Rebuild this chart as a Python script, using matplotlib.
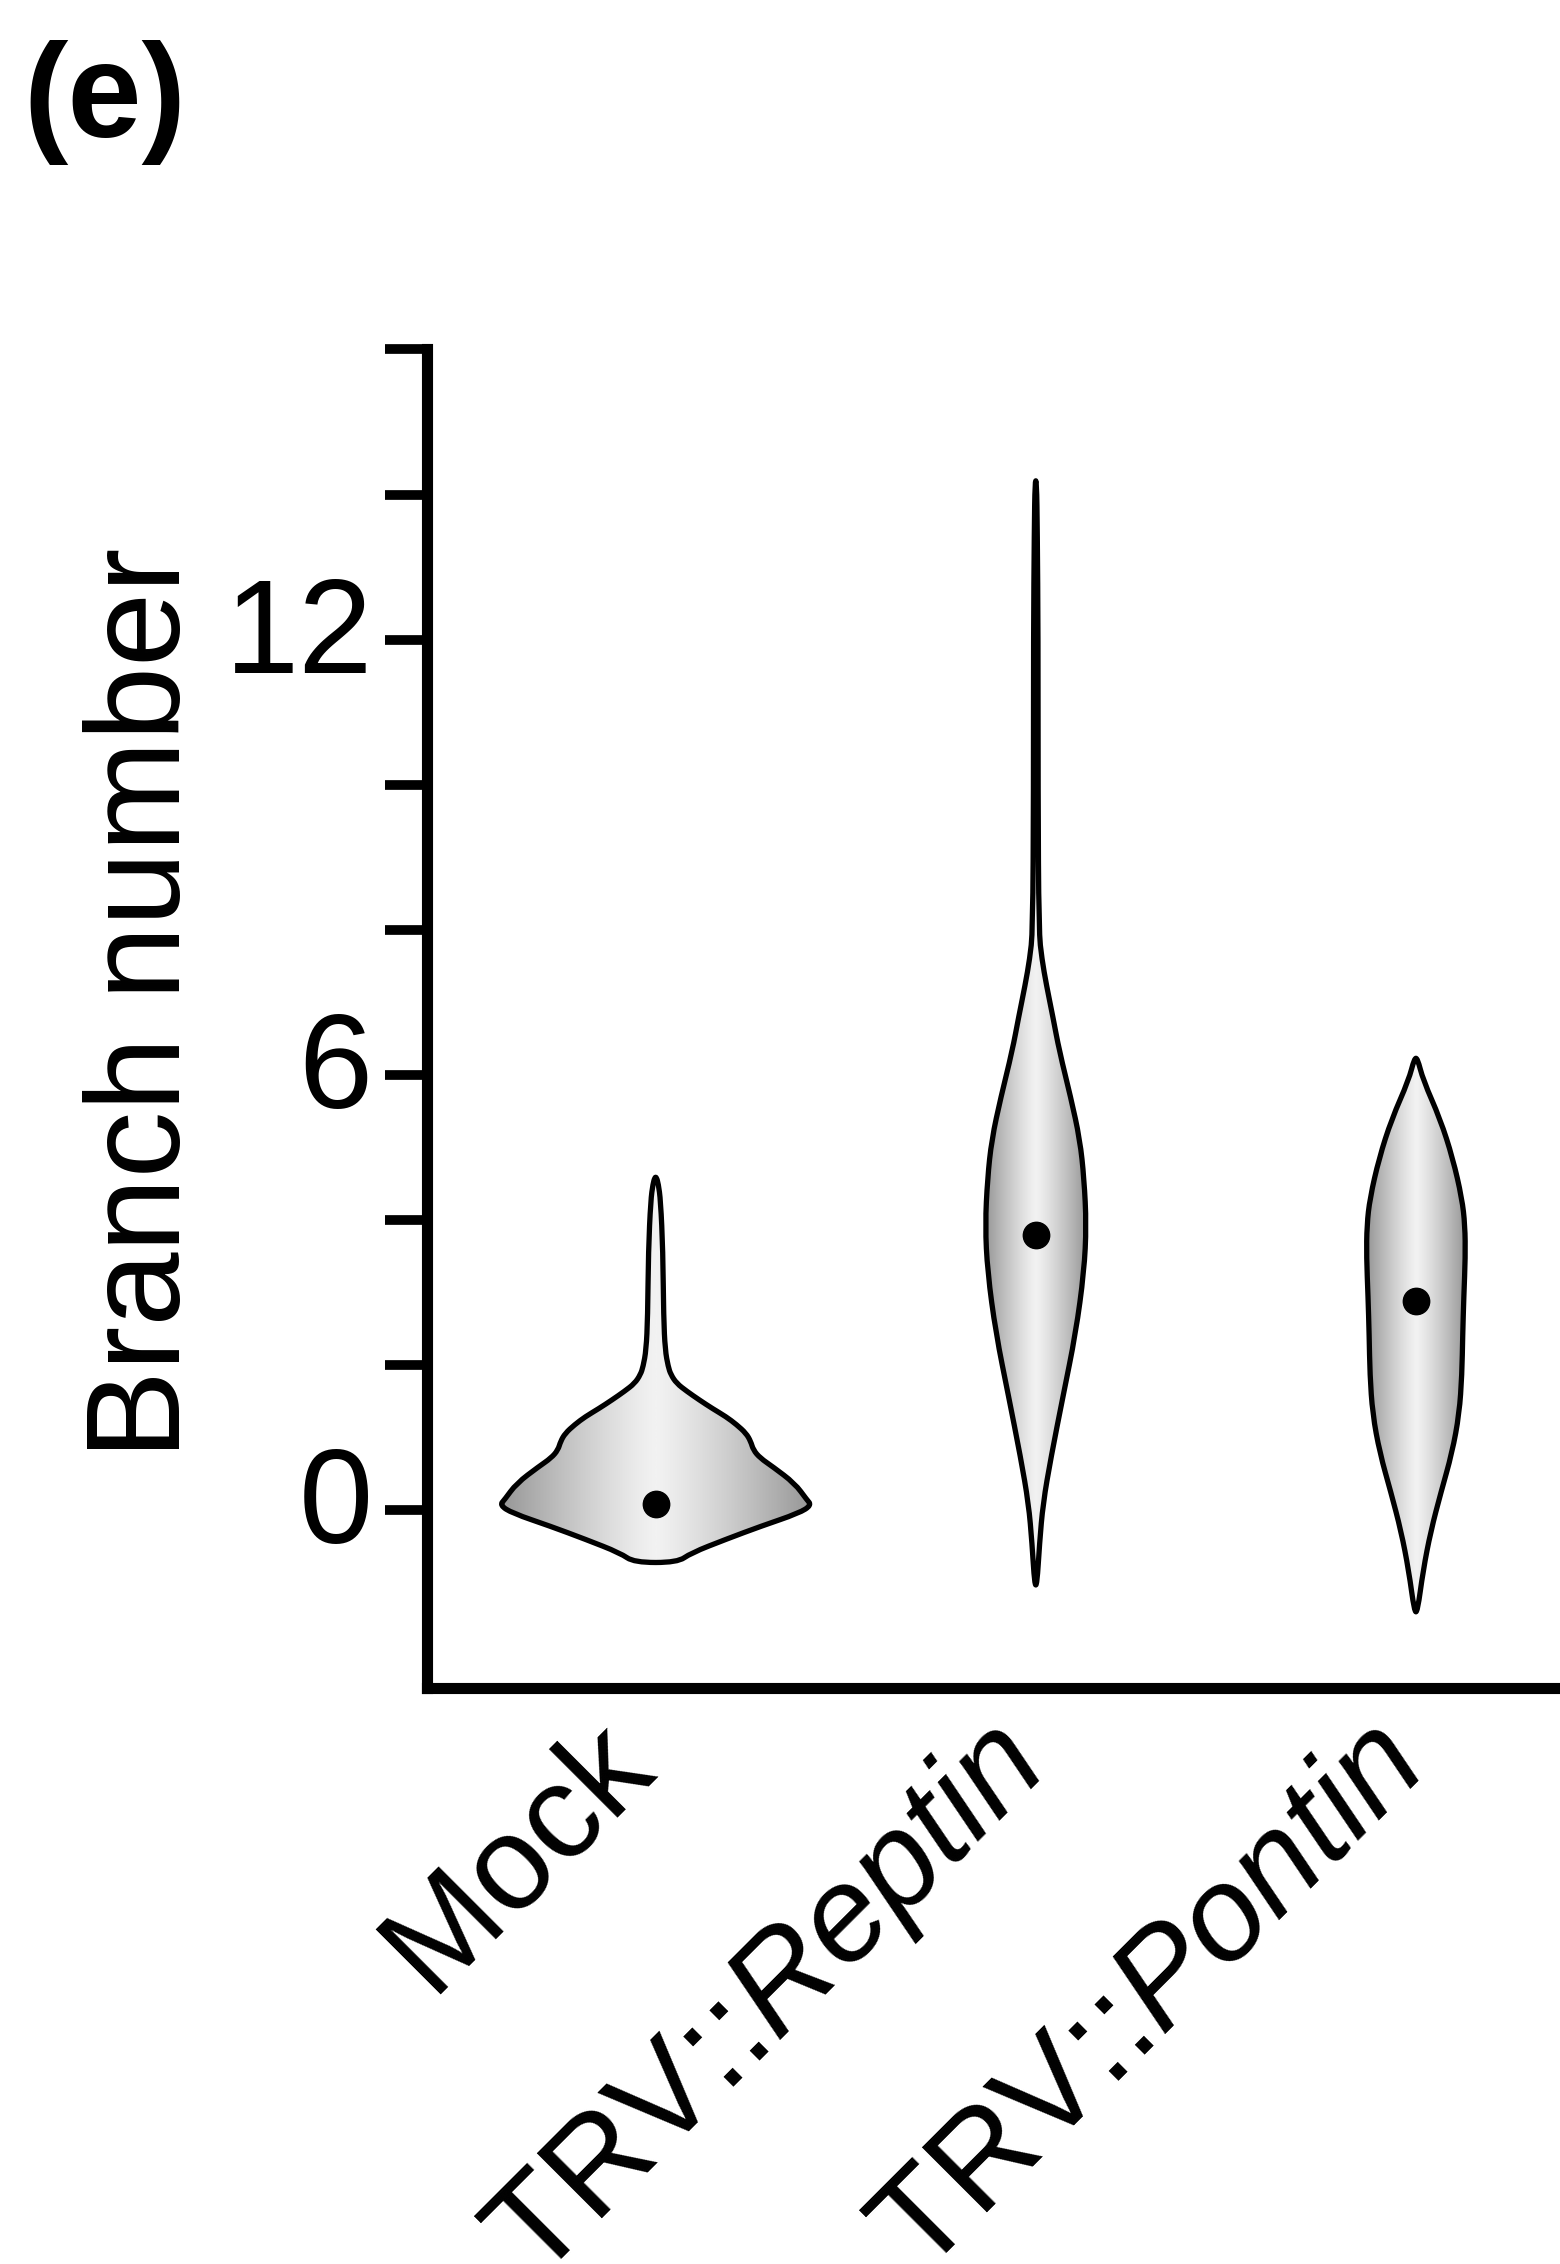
import numpy as np
import matplotlib
matplotlib.use("Agg")
import matplotlib.pyplot as plt
from matplotlib.patches import PathPatch
from matplotlib.path import Path
from matplotlib.colors import LinearSegmentedColormap
from matplotlib.transforms import ScaledTranslation

plt.rcParams['font.family'] = ['Liberation Sans', 'DejaVu Sans']
plt.rcParams['mathtext.fontset'] = 'custom'
plt.rcParams['mathtext.rm'] = 'Liberation Sans'
plt.rcParams['mathtext.it'] = 'Liberation Sans:italic'

# ---------------- data ----------------
categories = ['Mock', r'TRV::$\mathit{Reptin}$', r'TRV::$\mathit{Pontin}$']

# violin outline profiles: branch number level and half-width (category units)
mock_y = [-0.72, -0.59, -0.40, -0.22, -0.04, 0.07, 0.15, 0.37, 0.60, 0.72, 0.83, 0.95,
          1.06, 1.18, 1.29, 1.40, 1.52, 1.64, 1.75, 1.87, 1.98, 2.21, 2.66, 3.58, 4.27, 4.50, 4.59]
mock_hw = [0.057, 0.093, 0.185, 0.277, 0.377, 0.410, 0.397, 0.366, 0.308, 0.275, 0.257, 0.250,
           0.238, 0.213, 0.185, 0.150, 0.115, 0.082, 0.055, 0.040, 0.033, 0.025, 0.021, 0.019, 0.013, 0.007, 0.002]

reptin_y = [-1.03, -0.45, 0.09, 0.73, 1.58, 2.44, 3.29, 3.93, 4.57, 5.11, 5.69, 6.33, 6.80,
            7.24, 7.60, 7.98, 9.91, 12.05, 13.50, 14.19]
reptin_hw = [0.003, 0.010, 0.019, 0.040, 0.072, 0.105, 0.127, 0.133, 0.127, 0.116, 0.092, 0.062, 0.045,
             0.028, 0.016, 0.008, 0.006, 0.006, 0.004, 0.002]

pontin_y = [-1.40, -0.83, -0.29, 0.25, 0.79, 1.33, 1.87, 2.41, 2.95, 3.49, 3.93, 4.30, 4.85, 5.39, 5.93, 6.23]
pontin_hw = [0.004, 0.019, 0.039, 0.066, 0.095, 0.114, 0.121, 0.123, 0.126, 0.130, 0.129, 0.121, 0.097, 0.064, 0.019, 0.004]

medians = [0.08, 3.79, 2.88]

ytick_all = [0, 2, 4, 6, 8, 10, 12, 14, 16]
ytick_labeled = [0, 6, 12]

# ---------------- figure ----------------
W, H = 1560, 2264
FS = 96
fig = plt.figure(figsize=(W / 100, H / 100), dpi=100)
ax = fig.add_axes([427 / W, 1 - 1688 / H, 1 - 427 / W, (1688 - 349.5) / H])

cmap = LinearSegmentedColormap.from_list('shade', ['#969696', '#f2f2f2'])


def smooth_closed_path(verts):
    """Closed outline drawn with quadratic Bezier segments (vertices as control points)."""
    v = np.vstack([verts, verts[:1]])
    mids = (v[:-1] + v[1:]) / 2
    n = len(verts)
    pts = [mids[-1]]
    codes = [Path.MOVETO]
    for k in range(n):
        pts.extend([verts[k], mids[k]])
        codes.extend([Path.CURVE3, Path.CURVE3])
    pts.append(mids[-1])
    codes.append(Path.CLOSEPOLY)
    return Path(np.array(pts), codes)


profiles = [(mock_y, mock_hw), (reptin_y, reptin_hw), (pontin_y, pontin_hw)]
for i, (ys, hws) in enumerate(profiles):
    ys = np.asarray(ys, float)
    hws = np.asarray(hws, float)
    left = np.column_stack([i - hws, ys])
    right = np.column_stack([i + hws, ys])[::-1]
    verts = np.vstack([left, right])
    patch = PathPatch(smooth_closed_path(verts), facecolor='none', edgecolor='black',
                      linewidth=3.8, joinstyle='round', zorder=3)
    ax.add_patch(patch)
    m = hws.max()
    xs = np.linspace(-1, 1, 400)
    shade = 1 - np.abs(xs) ** 1.2
    img = ax.imshow(shade[np.newaxis, :], cmap=cmap, vmin=0, vmax=1, aspect='auto',
                    extent=[i - m, i + m, ys.min(), ys.max()], interpolation='bilinear',
                    zorder=2)
    img.set_clip_path(patch)
    ax.plot(i, medians[i], 'o', color='black', markersize=19, zorder=4)

ax.set_xlim(-0.6015, 2.379)
ax.set_ylim(-2.45, 16)

for s in ['top', 'right']:
    ax.spines[s].set_visible(False)
for s in ['left', 'bottom']:
    ax.spines[s].set_linewidth(8)
    ax.spines[s].set_capstyle('projecting')

ax.set_yticks(ytick_all)
ax.set_yticklabels([str(v) if v in ytick_labeled else '' for v in ytick_all])
ax.tick_params(axis='y', length=30, width=7, pad=9, labelsize=FS, direction='out')
for lab in ax.get_yticklabels():
    lab.set_verticalalignment('baseline')
    lab.set_transform(lab.get_transform() + ScaledTranslation(0, -33 / 100, fig.dpi_scale_trans))

ax.set_xticks(range(len(categories)))
ax.set_xticklabels(categories, rotation=45, ha='right', va='baseline',
                   rotation_mode='anchor', fontsize=FS)
ax.tick_params(axis='x', length=0, pad=58)
for k, lab in enumerate(ax.get_xticklabels()):
    if k > 0:
        lab.set_transform(lab.get_transform() + ScaledTranslation(12 / 100, -4 / 100, fig.dpi_scale_trans))

fig.text(180 / W, 1 - 1003.5 / H, 'Branch number', rotation=90, ha='center', va='baseline',
         rotation_mode='anchor', fontsize=FS)
fig.text(23 / W, 1 - 137 / H, '(e)', ha='left', va='baseline', fontsize=FS, fontweight='bold')

fig.savefig('out.png', dpi=100, facecolor='white')
